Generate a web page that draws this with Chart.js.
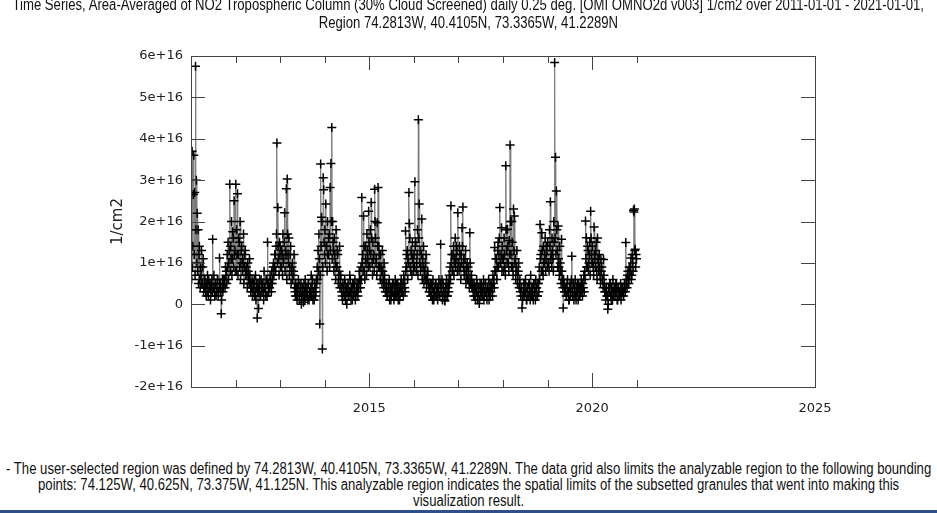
<!DOCTYPE html>
<html>
<head>
<meta charset="utf-8">
<script src="https://cdn.jsdelivr.net/npm/chart.js@4.4.0/dist/chart.umd.min.js"></script>
<style>
    body {
        margin: 0;
        background: #fff;
        width: 937px;
        height: 513px;
        overflow: hidden;
        position: relative;
        font-family: "Liberation Sans", Arial, sans-serif;
        color: #111;
    }
    .chart {
        position: absolute;
        left: 0;
        top: 0;
        width: 937px;
        height: 430px;
    }
    .text {
        position: absolute;
        left: 0;
        width: 937px;
        font-size: 16px;
    }
    .title { top: -4px; line-height: 18px; }
    .note { top: 461px; line-height: 16px; }
    .line {
        display: flex;
        justify-content: center;
    }
    .line span {
        display: inline-block;
        white-space: nowrap;
        transform-origin: center;
    }
    .bar {
        position: absolute;
        left: 0;
        bottom: 0;
        width: 937px;
        height: 3px;
        background: #2f4f86;
    }
</style>
</head>
<body>

<div class="chart"><canvas id="no2Chart"></canvas></div>

<div class="text title">
    <div class="line"><span>Time Series, Area-Averaged of NO2 Tropospheric Column (30% Cloud Screened) daily 0.25 deg. [OMI OMNO2d v003] 1/cm2 over 2011-01-01 - 2021-01-01,</span></div>
    <div class="line"><span>Region 74.2813W, 40.4105N, 73.3365W, 41.2289N</span></div>
</div>

<div class="text note">
    <div class="line"><span id="longLine">- The user-selected region was defined by 74.2813W, 40.4105N, 73.3365W, 41.2289N. The data grid also limits the analyzable region to the following bounding</span></div>
    <div class="line"><span>points: 74.125W, 40.625N, 73.375W, 41.125N. This analyzable region indicates the spatial limits of the subsetted granules that went into making this</span></div>
    <div class="line"><span>visualization result.</span></div>
</div>

<div class="bar"></div>

<script>

// the original uses a condensed font; squeeze the text to the same width
let longLine = document.getElementById("longLine");
let squeeze = 925 / longLine.offsetWidth;

document.querySelectorAll(".line span").forEach(function (s) {
    s.style.transform = "scaleX(" + squeeze + ")";
});


// readings, in units of 1e15 molecules/cm2
let years = [2011, 2012, 2013, 2014, 2015, 2016, 2017, 2018, 2019, 2020];

// start-of-week readings
let no2_2011 = [8, 37, 14, 36, 27, 57.5, 30, 22, 18, 12, 6, 9, 13, 5, 11, 4,
    6, 3, 5, 7, 2, 4, 5, 3, 6, 15.7, 4, 3, 5, 2, 4, 6, 3, 11.2, 5, -2.3, 4, 3, 6,
    6, 9, 8, 12, 15, 10, 29, 14, 20, 11, 16, 25, 13];

let no2_2012 = [29, 18, 26.7, 12, 15, 20, 10, 14, 11, 17, 9, 13, 8, 7, 10, 6, 11, 5,
    4, 6, 3, 5, 2, 7, 4, -3.3, 5, 3, 6, 2, 4, 5, 3, 8, 4, 2, 6, 15, 5, 4, 7, 5,
    8, 6, 10, 9, 12, 14, 39, 23.4, 11, 15];

let no2_2013 = [14, 9, 12, 17, 11, 22.1, 13, 27.9, 30.3, 12, 16, 9, 14, 8, 10, 7, 12,
    3, 5, 2, 4, 6, 1, 3, 5, 2, 4, 0.5, 3, 6, 2, 4, 1, 5, 3, 2, 7, 4, 1, 3, 5, 2, 6,
    9, 13, 17, -4.8, 33.9, 21, -10.8, 30.6, 15];

let no2_2014 = [18, 24.2, 14, 20, 12, 17, 28.2, 34, 42.7, 20, 13, 16, 10, 18, 9, 12, 7, 14, 6,
    4, 2, 5, 3, 6, 1, 4, 3, 5, 2, 7, 3, 4, 1, 5, 3, 6, 2, 4, 3, 5, 8, 6,
    9, 25.8, 12, 21.3, 8, 14, 10, 17, 11, 22.5];

let no2_2015 = [13, 18, 24.6, 10, 15, 12, 27.8, 16, 11, 19.7, 28.2, 14, 9, 12, 8, 13, 6, 10, 5,
    3, 5, 2, 4, 6, 3, 1, 4, 5, 2, 3, 6, 4, 2, 5, 3, 1, 4, 6, 3, 5, 7, 4,
    17.7, 9, 13, 11, 27, 16, 8, 12, 15, 10];

let no2_2016 = [12, 29.6, 15, 10, 18, 44.6, 24.2, 13, 9, 20.6, 11, 14, 7, 10, 12, 6, 8, 5,
    3, 5, 2, 4, 6, 1, 3, 5, 2, 4, 3, 6, 2, 14.5, 4, 1, 5, 3, 0.8, 4, 6, 2, 5, 7,
    9, 23.8, 12, 8, 14, 10, 16, 11, 13, 22.1];

let no2_2017 = [10, 14, 9, 12, 18.5, 23.5, 11, 8, 13, 7, 10, 9, 6, 17.3, 5, 7, 4,
    3, 5, 2, 4, 6, 1, 3, 0.2, 5, 2, 4, 3, 6, 2, 5, 3, 1, 4, 6, 3, 2, 5, 4, 7, 6,
    13.7, 8, 11, 9, 15, 12, 23.4, 10, 18.5, 14];

let no2_2018 = [11, 16, 9, 33.5, 13, 18.1, 10, 15.4, 38.5, 12, 20, 9, 23, 21.3, 11, 8, 13, 7, 10, 5,
    3, 4, -0.9, 2, 5, 3, 6, 1, 4, 2, 5, 3, 7, 2, 4, 1, 5, 3, 6, 4, 2, 5,
    9, 19.3, 12, 17.3, 8, 14, 10, 16, 11, 13];

let no2_2019 = [15, 10, 18, 24.8, 12, 16, 11, 20, 58.4, 35.5, 27.4, 13, 18.9, 9, 14, 8, 15.7, 6, -0.9, 5,
    3, 4, 2, 6, 3, 1, 5, 4, 11.6, 2, 5, 3, 6, 1, 4, 3, 5, 2, 4, 6, 3, 5, 7, 8,
    20.1, 16.1, 9, 13, 10, 15, 22.5, 12];

let no2_2020 = [14, 9, 18.7, 11, 13, 8, 16, 10, 12, 7, 11, 9, 6, 10.8,
    5, 3, 4, 2, -1.2, 4, 3, 5, 1, 3, 6, 2, 4, 3, 5, 1, 4, 2, 3, 5, 2, 4, 3, 4,
    4, 14.9, 5, 7, 6, 9, 8, 11.2, 7, 10, 22.7, 23, 13.3, 12];

// mid-week readings
let mid_2011 = [6, 9, 26.5, 12, 7, 18, 10, 8, 5, 14, 4, 7, 5, 9, 3, 6,
    4, 2, 5, 3, 6, 4, 1, 5, 3, 4, 7, 2, 5, 3, 6, 2, 4, 5, 3, 1, 6, 4, 5,
    4, 7, 5, 9, 6, 13, 8, 11, 7, 17.5, 9, 12, 8];

let mid_2012 = [8, 12, 7, 16, 9, 6, 13, 8, 10, 5, 12, 7, 9, 4, 8, 5, 7, 3,
    5, 2, 4, 6, 3, 1, 5, 3, -1, 4, 2, 6, 3, 5, 1, 4, 3, 6, 2, 5, 3, 4, 6, 3,
    5, 9, 7, 12, 8, 17, 10, 14, 7, 12];

let mid_2013 = [9, 13, 7, 10, 15, 8, 12, 6, 17, 10, 7, 12, 5, 9, 6, 8, 4,
    2, 4, 1, 3, 5, 2, 4, 0, 3, 2, 5, 1, 4, 3, 2, 5, 1, 3, 4, 2, 6, 3, 1, 4, 3, 5,
    6, 8, 11, 7, 14, 20, 9, 27.7, 12];

let mid_2014 = [10, 14, 8, 12, 16, 9, 13, 20, 11, 15, 8, 12, 6, 9, 13, 5, 8, 4, 7,
    3, 1, 4, 2, 5, 3, 0, 4, 2, 3, 6, 1, 3, 5, 2, 4, 1, 3, 5, 2, 4, 6, 4,
    6, 10, 8, 14, 6, 11, 7, 13, 9, 15];

let mid_2015 = [9, 12, 16, 7, 11, 8, 20, 10, 7, 14, 9, 12, 6, 9, 5, 8, 4, 7, 3,
    4, 2, 3, 5, 1, 4, 2, 3, 5, 1, 4, 2, 5, 3, 1, 4, 2, 5, 3, 4, 2, 6, 3,
    8, 12, 6, 10, 19.5, 9, 13, 7, 11, 8];

let mid_2016 = [9, 14, 8, 12, 7, 16, 10, 8, 12, 6, 9, 5, 8, 6, 4, 7, 5, 3,
    4, 2, 5, 1, 3, 4, 2, 5, 3, 1, 4, 2, 5, 3, 6, 2, 4, 1, 3, 5, 2, 4, 3, 5,
    6, 10, 8, 12, 7, 11, 9, 14, 8, 10];

let mid_2017 = [8, 12, 6, 10, 14, 9, 7, 11, 5, 9, 6, 8, 4, 10, 6, 4, 5,
    2, 4, 1, 3, 5, 2, 4, 1, 3, 5, 2, 4, 1, 3, 5, 2, 4, 3, 1, 5, 3, 4, 2, 5, 4,
    8, 11, 6, 13, 9, 16, 10, 12, 8, 11];

let mid_2018 = [8, 12, 7, 18, 10, 14, 8, 12, 20, 9, 15, 7, 13, 10, 6, 9, 5, 8, 4, 6,
    2, 4, 1, 3, 2, 5, 3, 1, 4, 2, 5, 1, 3, 4, 2, 5, 3, 1, 4, 2, 5, 3,
    6, 11, 8, 13, 7, 10, 12, 8, 14, 9];

let mid_2019 = [10, 8, 14, 11, 9, 13, 8, 15, 16, 12, 18, 9, 11, 7, 10, 5, 8, 4, 6, 3,
    4, 2, 5, 3, 1, 4, 2, 6, 3, 5, 1, 4, 2, 3, 5, 1, 4, 2, 3, 5, 2, 4, 3, 6,
    11, 9, 14, 8, 12, 7, 16, 10];

let mid_2020 = [10, 7, 12, 9, 15, 6, 11, 8, 9, 5, 8, 6, 4, 7,
    3, 1, 4, 2, 0, 3, 5, 2, 4, 1, 3, 4, 2, 5, 3, 1, 4, 2, 3, 1, 4, 3, 2, 5,
    3, 6, 4, 8, 5, 7, 9, 6, 12, 8, 22.3, 13, 9, 11];

let weekStart = [no2_2011, no2_2012, no2_2013, no2_2014, no2_2015,
    no2_2016, no2_2017, no2_2018, no2_2019, no2_2020];

let midWeek = [mid_2011, mid_2012, mid_2013, mid_2014, mid_2015,
    mid_2016, mid_2017, mid_2018, mid_2019, mid_2020];

// axis ticks
let yTicks = [-2, -1, 0, 1, 2, 3, 4, 5, 6];   // x 1e16
let xLabels = [2015, 2020, 2025];
let minorYears = [2012, 2013, 2014, 2016, 2017, 2018, 2019, 2021];
let majorYears = [2015, 2020];


let points = [];

years.forEach(function (yr, k) {

    weekStart[k].forEach(function (v, i) {
        points.push({ x: yr + (i + 0.25) / weekStart[k].length, y: v * 1e15 });
    });

    midWeek[k].forEach(function (v, i) {
        points.push({ x: yr + (i + 0.75) / midWeek[k].length, y: v * 1e15 });
    });

});

points.sort(function (a, b) { return a.x - b.x; });


// box around the plot with inward ticks, like the original plot
const boxTicks = {
    id: "boxTicks",
    afterDraw(chart) {
        const c = chart.ctx;
        const a = chart.chartArea;
        const xs = chart.scales.x;
        const ys = chart.scales.y;

        c.save();
        c.strokeStyle = "#444";
        c.lineWidth = 1;
        c.strokeRect(a.left + 0.5, a.top + 0.5, a.right - a.left, a.bottom - a.top);

        c.beginPath();

        yTicks.forEach(function (t) {
            let p = Math.round(ys.getPixelForValue(t * 1e16)) + 0.5;
            c.moveTo(a.left, p);
            c.lineTo(a.left + 14, p);
            c.moveTo(a.right, p);
            c.lineTo(a.right - 14, p);
        });

        minorYears.forEach(function (yr) {
            let p = Math.round(xs.getPixelForValue(yr)) + 0.5;
            c.moveTo(p, a.bottom);
            c.lineTo(p, a.bottom - 7);
            c.moveTo(p, a.top);
            c.lineTo(p, a.top + 7);
        });

        majorYears.forEach(function (yr) {
            let p = Math.round(xs.getPixelForValue(yr)) + 0.5;
            c.moveTo(p, a.bottom);
            c.lineTo(p, a.bottom - 14);
            c.moveTo(p, a.top);
            c.lineTo(p, a.top + 14);
        });

        c.stroke();
        c.restore();
    }
};


const ctx = document.getElementById("no2Chart");

new Chart(ctx, {
    type: "line",

    data: {
        datasets: [{
            data: points,
            borderColor: "#7a7a7a",
            borderWidth: 1,
            pointStyle: "cross",
            pointRadius: 4.5,
            pointBorderColor: "#000",
            pointBackgroundColor: "#000",
            pointBorderWidth: 1.5,
            tension: 0
        }]
    },

    options: {
        responsive: true,
        maintainAspectRatio: false,
        animation: false,
        layout: {
            padding: { left: 105, right: 122, top: 56, bottom: 13 }
        },
        plugins: {
            legend: { display: false },
            tooltip: { enabled: false }
        },
        scales: {
            x: {
                type: "linear",
                min: 2011,
                max: 2025,
                grid: { display: false, drawTicks: false },
                border: { display: false },
                afterBuildTicks: function (s) {
                    s.ticks = xLabels.map(function (v) { return { value: v }; });
                },
                afterFit: function (s) {
                    s.height = 30;
                },
                ticks: {
                    autoSkip: false,
                    maxRotation: 0,
                    padding: 14,
                    color: "#222",
                    font: { family: "DejaVu Sans", size: 13 },
                    callback: function (v) { return String(v); }
                }
            },
            y: {
                min: -2e16,
                max: 6e16,
                grid: { display: false, drawTicks: false },
                border: { display: false },
                afterBuildTicks: function (s) {
                    s.ticks = yTicks.map(function (v) { return { value: v * 1e16 }; });
                },
                afterFit: function (s) {
                    s.width = 86;
                },
                title: {
                    display: true,
                    text: "1/cm2",
                    color: "#222",
                    font: { family: "DejaVu Sans", size: 15 }
                },
                ticks: {
                    padding: 8,
                    color: "#222",
                    font: { family: "DejaVu Sans", size: 13 },
                    callback: function (v) {
                        let n = Math.round(v / 1e16);
                        return n === 0 ? "0" : n + "e+16";
                    }
                }
            }
        }
    },

    plugins: [boxTicks]
});

</script>
</body>
</html>
